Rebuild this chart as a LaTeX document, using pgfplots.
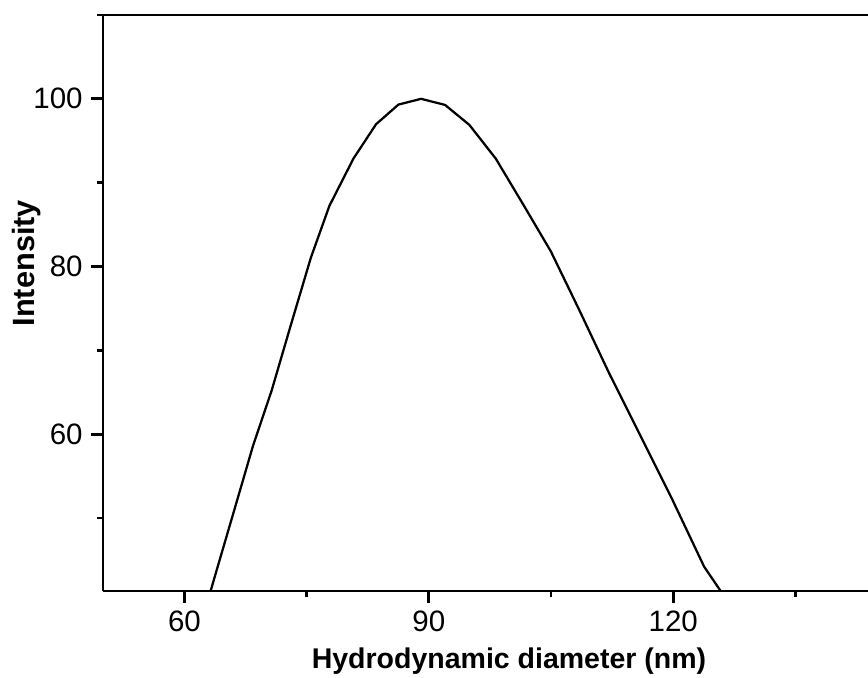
\documentclass[border=0pt]{standalone}
\usepackage{fontspec}
\setmainfont{Liberation Sans}
\usepackage{pgfplots}
\usepackage{pgfplotstable}
\pgfplotsset{compat=1.18}

% size distribution
\pgfplotstableread{
d      I
61.97  37.14
64.05  44.10
66.19  51.20
68.41  58.60
70.70  65.20
73.07  73.06
75.52  81.06
77.79  87.23
80.74  92.87
83.52  96.97
86.26  99.31
89.04  100.00
91.99  99.27
94.97  96.89
98.21  92.87
101.70 87.20
104.98 81.79
108.50 74.73
112.13 67.26
115.89 59.96
119.77 52.43
123.78 44.21
127.93 38.27
}\dls

\begin{document}
\begin{tikzpicture}
\begin{axis}[
    scale only axis, width=306pt, height=230.4pt,
    xmin=50, xmax=143.9, ymin=41.3, ymax=110,
    axis x line=box, axis y line*=left,
    axis line style={line width=1.1pt, -},
    xtick={60,90,120}, minor xtick={75,105,135},
    ytick={60,80,100}, minor ytick={50,70,90,110},
    xtick pos=left, ytick pos=left,
    tick align=outside,
    major tick length=4.6pt, minor tick length=2.4pt,
    every tick/.style={black, line width=1.1pt},
    tick label style={font=\fontsize{11.8}{14}\selectfont},
    /pgf/number format/assume math mode=true,
    xlabel={Hydrodynamic diameter (nm)},
    ylabel={Intensity},
    xlabel style={font=\bfseries\fontsize{11.4}{13}\selectfont,
        at={(axis description cs:0.5307,-0.1354)}, anchor=base},
    ylabel style={font=\bfseries\fontsize{12.3}{14}\selectfont,
        at={(axis description cs:-0.089,0.569)}, anchor=base},
]
\addplot[black, line width=0.9pt] table {\dls};
\coordinate (bbsw) at (axis description cs:-0.1346,-0.151);
\coordinate (bbne) at (axis description cs:1,1.026);
\end{axis}
\pgfresetboundingbox
\path (bbsw) rectangle (bbne);
\end{tikzpicture}
\end{document}
